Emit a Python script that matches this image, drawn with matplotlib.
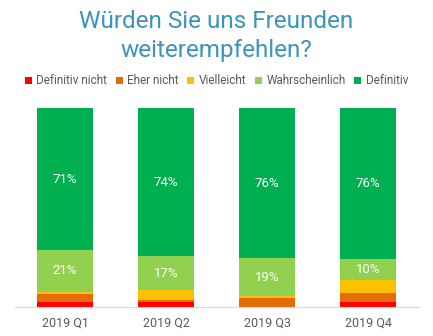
import matplotlib.pyplot as plt
import numpy as np

plt.rcParams['font.family'] = ['Roboto', 'DejaVu Sans']

quartale = ["2019 Q1", "2019 Q2", "2019 Q3", "2019 Q4"]
kategorien = ["Definitiv nicht", "Eher nicht", "Vielleicht", "Wahrscheinlich", "Definitiv"]
farben = ["#FF0000", "#E36C09", "#FFC000", "#92D050", "#00B050"]

definitiv_nicht = [2.5, 2.5, 0.0, 2.5]
eher_nicht = [4.1, 1.0, 4.5, 4.5]
vielleicht = [1.0, 5.0, 1.0, 6.6]
wahrscheinlich = [21.0, 17.0, 19.0, 10.4]
definitiv = [71.4, 74.5, 75.5, 76.0]

werte = [definitiv_nicht, eher_nicht, vielleicht, wahrscheinlich, definitiv]

fig = plt.figure(figsize=(4.33, 3.36), dpi=100)
ax = fig.add_axes([14.5 / 433, 1 - 307 / 336, 404 / 433, 199 / 336])

x = np.arange(len(quartale))
unten = np.zeros(len(quartale))
for name, farbe, reihe in zip(kategorien, farben, werte):
    reihe = np.array(reihe)
    ax.bar(x, reihe, bottom=unten, width=0.555, color=farbe, label=name, linewidth=0)
    # Beschriftung nur für große Segmente
    for xi, b, v in zip(x, unten, reihe):
        if v >= 10:
            ax.text(xi, b + v / 2, f"{round(v)}%", ha='center', va='center',
                    color='white', fontsize=9.5)
    unten += reihe

ax.set_xlim(-0.5, 3.5)
ax.set_ylim(0, 100)
ax.set_yticks([])
ax.set_xticks(x)
ax.set_xticklabels(quartale, fontsize=9, color='#595959')
ax.tick_params(axis='x', length=0, pad=7)
for s in ['top', 'right', 'left']:
    ax.spines[s].set_visible(False)
ax.spines['bottom'].set_color('#D9D9D9')

fig.text(0.5, 1 - 36 / 336, "Würden Sie uns Freunden\nweiterempfehlen?", ha='center', va='center',
         fontsize=17.5, color='#3C93BE', linespacing=1.3)

fig.legend(loc='center', bbox_to_anchor=(0.5, 1 - 81 / 336), ncol=5, frameon=False,
           fontsize=8.5, labelcolor='#595959', handlelength=0.6, handleheight=0.6,
           handletextpad=0.4, columnspacing=0.7, borderaxespad=0)

fig.savefig("out.png", dpi=100)
